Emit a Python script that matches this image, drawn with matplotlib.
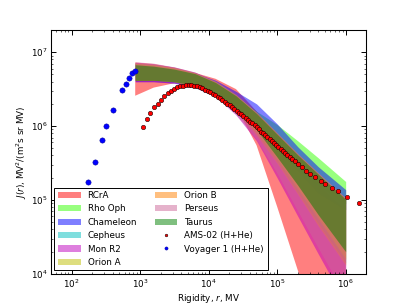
import numpy as np
import matplotlib
matplotlib.use('Agg')
import matplotlib.pyplot as plt

plt.rcParams['font.size'] = 9

# Voyager 1 (H+He), rigidity in MV
voy_r = [174, 218, 276, 321, 401, 543, 616, 689, 771, 844]
voy_J = [1.73e5, 3.22e5, 6.47e5, 1.0e6, 1.64e6, 3.06e6, 3.70e6, 4.40e6, 5.20e6, 5.5e6]

# AMS-02 (H+He)
ams_r = [1120, 1250, 1420, 1610, 1810, 2030, 2270, 2530, 2820, 3130, 3460, 3830,
         4220, 4650, 5120, 5630, 6180, 6780, 7420, 8120, 8870, 9680, 10500, 11500,
         12500, 13500, 14600, 15900, 17300, 18700, 20300, 22000, 23800, 25700,
         27800, 30000, 32300, 34800, 37500, 40400, 43500, 46800, 50300, 54100,
         58200, 62500, 67200, 72300, 77700, 83500, 89700, 96500, 104000, 112000,
         120000, 130000, 141000, 153000, 167000, 183000, 201000, 228000, 261000,
         303000, 354000, 434000, 502000, 622000, 782000, 1040000, 1540000]
ams_J = [9.57e5, 1.24e6, 1.51e6, 1.79e6, 2.0e6, 2.24e6, 2.57e6, 2.82e6, 3.0e6,
         3.18e6, 3.36e6, 3.46e6, 3.52e6, 3.58e6, 3.61e6, 3.59e6, 3.53e6, 3.45e6,
         3.34e6, 3.24e6, 3.11e6, 2.99e6, 2.86e6, 2.73e6, 2.6e6, 2.48e6, 2.36e6,
         2.23e6, 2.11e6, 2.0e6, 1.90e6, 1.79e6, 1.70e6, 1.61e6, 1.52e6, 1.44e6,
         1.36e6, 1.29e6, 1.22e6, 1.15e6, 1.09e6, 1.02e6, 9.57e5, 9.0e5, 8.43e5,
         7.94e5, 7.48e5, 7.03e5, 6.64e5, 6.24e5, 5.89e5, 5.55e5, 5.22e5, 4.92e5,
         4.66e5, 4.38e5, 4.11e5, 3.86e5, 3.61e5, 3.37e5, 3.09e5, 2.78e5, 2.49e5,
         2.24e5, 2.02e5, 1.81e5, 1.63e5, 1.45e5, 1.32e5, 1.11e5, 9.1e4]

# cloud bands (log10 J) at these rigidities
band_r = [850, 1580, 3160, 6310, 12600, 25100, 50100, 1e5, 2e5, 3.98e5, 1e6]

rcra_hi = [6.86, 6.84, 6.79, 6.72, 6.64, 6.5, 6.2, 5.85, 5.5, 5.2, 4.85]
rcra_lo = [6.41, 6.52, 6.58, 6.58, 6.48, 6.26, 5.74, 4.91, 4.05, 3.2, 2.05]
rhooph_hi = [6.84, 6.82, 6.78, 6.72, 6.6, 6.42, 6.2, 6.02, 5.80, 5.57, 5.25]
rhooph_lo = [6.62, 6.62, 6.6, 6.55, 6.45, 6.25, 6.0, 5.72, 5.45, 5.2, 4.95]
cham_hi = [6.84, 6.82, 6.78, 6.72, 6.62, 6.47, 6.3, 6.03, 5.72, 5.45, 5.14]
cham_lo = [6.6, 6.6, 6.58, 6.53, 6.43, 6.24, 5.98, 5.7, 5.4, 5.1, 4.87]
ceph_hi = [6.85, 6.83, 6.79, 6.72, 6.6, 6.42, 6.18, 5.9, 5.62, 5.36, 5.02]
ceph_lo = [6.62, 6.62, 6.59, 6.52, 6.4, 6.2, 5.9, 5.52, 5.1, 4.68, 4.15]
monr2_hi = [6.86, 6.84, 6.8, 6.73, 6.6, 6.42, 6.18, 5.9, 5.62, 5.36, 5.02]
monr2_lo = [6.6, 6.6, 6.58, 6.52, 6.4, 6.15, 5.8, 5.3, 4.78, 4.27, 3.6]
oria_hi = [6.85, 6.83, 6.79, 6.72, 6.6, 6.42, 6.18, 5.9, 5.62, 5.36, 5.02]
oria_lo = [6.62, 6.62, 6.6, 6.54, 6.43, 6.22, 5.92, 5.55, 5.15, 4.75, 4.2]
orib_hi = [6.85, 6.83, 6.79, 6.72, 6.6, 6.42, 6.18, 5.9, 5.62, 5.36, 5.02]
orib_lo = [6.62, 6.62, 6.6, 6.54, 6.42, 6.2, 5.88, 5.5, 5.08, 4.65, 4.12]
pers_hi = [6.87, 6.85, 6.8, 6.73, 6.61, 6.43, 6.19, 5.91, 5.63, 5.37, 5.03]
pers_lo = [6.63, 6.63, 6.6, 6.54, 6.42, 6.16, 5.82, 5.36, 4.85, 4.35, 3.7]
taur_hi = [6.83, 6.81, 6.77, 6.71, 6.59, 6.41, 6.17, 5.89, 5.61, 5.35, 5.01]
taur_lo = [6.62, 6.62, 6.6, 6.55, 6.44, 6.23, 5.95, 5.58, 5.2, 4.8, 4.3]

names = ['RCrA', 'Rho Oph', 'Chameleon', 'Cepheus', 'Mon R2', 'Orion A',
         'Orion B', 'Perseus', 'Taurus']
colors = ['r', '#33ff00', 'b', 'c', 'm', 'y', '#ff8000', '#cc6699', 'g']
highs = [rcra_hi, rhooph_hi, cham_hi, ceph_hi, monr2_hi, oria_hi, orib_hi, pers_hi, taur_hi]
lows = [rcra_lo, rhooph_lo, cham_lo, ceph_lo, monr2_lo, oria_lo, orib_lo, pers_lo, taur_lo]

fig = plt.figure(figsize=(407/70, 305/70), dpi=70)
ax = fig.add_axes([0.125, 0.102, 0.775, 0.8])

for name, c, hi, lo in zip(names, colors, highs, lows):
    ax.fill_between(band_r, 10**np.array(lo), 10**np.array(hi), color=c,
                    alpha=0.5, lw=0, label=name)

ax.plot(ams_r, ams_J, 'o', color='r', mec='k', mew=0.5, ms=4.6,
        label='AMS-02 (H+He)')
ax.plot(voy_r, voy_J, 'o', color='b', mec='#000099', mew=0.5, ms=5.4,
        label='Voyager 1 (H+He)')

ax.set_xscale('log')
ax.set_yscale('log')
ax.set_xlim(50, 2e6)
ax.set_ylim(1e4, 2e7)
ax.set_xlabel('Rigidity, $r$, MV', labelpad=2)
ax.set_ylabel('$J(r)$, MV$^2$/(m$^2$s sr MV)', labelpad=2)
ax.tick_params(which='both', direction='in', top=True, right=True)
ax.tick_params(which='major', length=5, width=1)
ax.tick_params(which='minor', length=2.5, width=0.6)
for s in ax.spines.values():
    s.set_linewidth(1.1)

leg = ax.legend(loc='lower left', ncol=2, fancybox=False, edgecolor='k',
                framealpha=1, numpoints=1, markerscale=0.6, handlelength=2.6,
                borderaxespad=0.4)
leg.get_frame().set_linewidth(1)

fig.savefig('out.png', dpi=70)
